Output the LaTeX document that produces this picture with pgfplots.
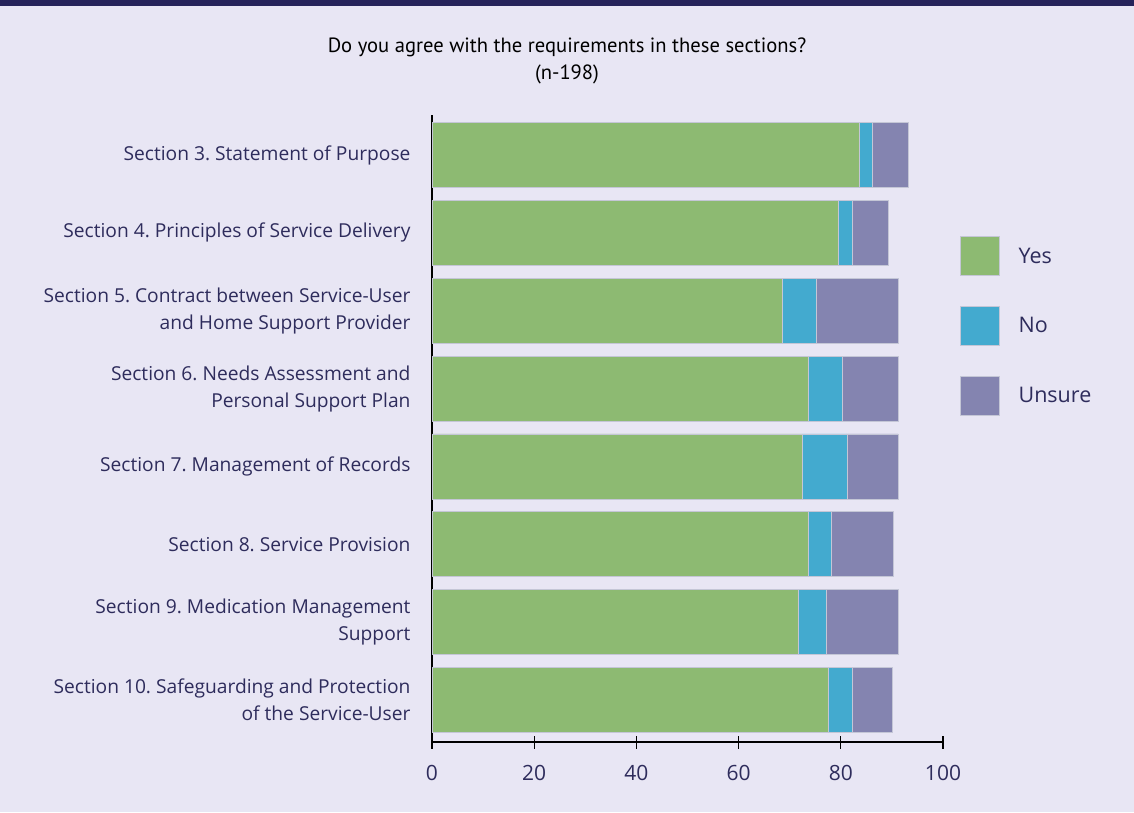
\documentclass[border=0pt]{standalone}
\usepackage{pgfplots}
\pgfplotsset{compat=1.18}
\usepackage{fontspec}
\setmainfont{Open Sans}
\newfontfamily\titlefont{PT Sans}
\definecolor{bg}{HTML}{E8E6F4}
\definecolor{band}{HTML}{26235A}
\definecolor{cyes}{HTML}{8DBA72}
\definecolor{cno}{HTML}{43AACF}
\definecolor{cunsure}{HTML}{8484B0}
\definecolor{navy}{HTML}{2E2C5C}
\definecolor{edge}{HTML}{C4C6D6}
\begin{document}
\frenchspacing
\begin{tikzpicture}
\path[use as bounding box] (0,0) rectangle (1134pt,812pt);
\fill[bg] (0,0) rectangle (1134pt,812pt);
\fill[band] (0,806pt) rectangle (1134pt,812pt);
\node[font=\titlefont\fontsize{20.6}{23}\selectfont, text=black] at (567pt,765pt) {Do you agree with the requirements in these sections?};
\node[font=\titlefont\fontsize{20.6}{23}\selectfont, text=black] at (567pt,738pt) {(n-198)};
\begin{axis}[
  at={(432pt,70pt)}, anchor=south west,
  scale only axis, width=511pt, height=627pt,
  xbar stacked, bar width=65pt,
  xmin=0, xmax=100, ymin=0.486, ymax=8.54,
  y dir=reverse,
  axis x line=bottom, axis y line=left,
  axis line style={line width=1.3pt, black, -},
  major tick length=13pt,
  xtick align=center, ytick align=inside,
  xtick={0,20,...,100},
  x tick style={line width=1.3pt, black},
  ytick={1,...,8},
  y tick style={line width=1.3pt, black, /pgfplots/major tick length=5pt},
  yticklabels={
    {Section 3. Statement of Purpose},
    {Section 4. Principles of Service Delivery},
    {Section 5. Contract between Service-User\\and Home Support Provider},
    {Section 6. Needs Assessment and\\Personal Support Plan},
    {Section 7. Management of Records},
    {Section 8. Service Provision},
    {Section 9. Medication Management\\Support},
    {Section 10. Safeguarding and Protection\\of the Service-User}},
  yticklabel style={align=right, font=\fontsize{19.2}{27}\selectfont, text=navy, xshift=-18pt},
  xticklabel style={font=\fontsize{21}{24}\selectfont, text=navy, yshift=-13pt},
  /pgf/number format/assume math mode=true,
  legend style={at={(1.027,0.810)}, anchor=north west, draw=none, fill=none,
    row sep=30pt, column sep=19pt, nodes={inner sep=0pt},
    font=\fontsize{21.5}{24}\selectfont, text=navy},
  legend cell align=left,
  legend image code/.code={\fill[#1] (0pt,-19.5pt) rectangle (39pt,19.5pt);},
  every axis plot/.append style={draw=edge, line width=0.6pt},
]
\addplot[fill=cyes] coordinates {(83.6,1) (79.6,2) (68.6,3) (73.6,4) (72.5,5) (73.6,6) (71.6,7) (77.6,8)};
\addplot[fill=cno] coordinates {(2.6,1) (2.6,2) (6.6,3) (6.6,4) (8.7,5) (4.6,6) (5.6,7) (4.6,8)};
\addplot[fill=cunsure] coordinates {(7.1,1) (7.0,2) (16.0,3) (11.0,4) (10.0,5) (12.0,6) (14.0,7) (7.9,8)};
\legend{Yes, No, Unsure}
\end{axis}
\end{tikzpicture}
\end{document}
